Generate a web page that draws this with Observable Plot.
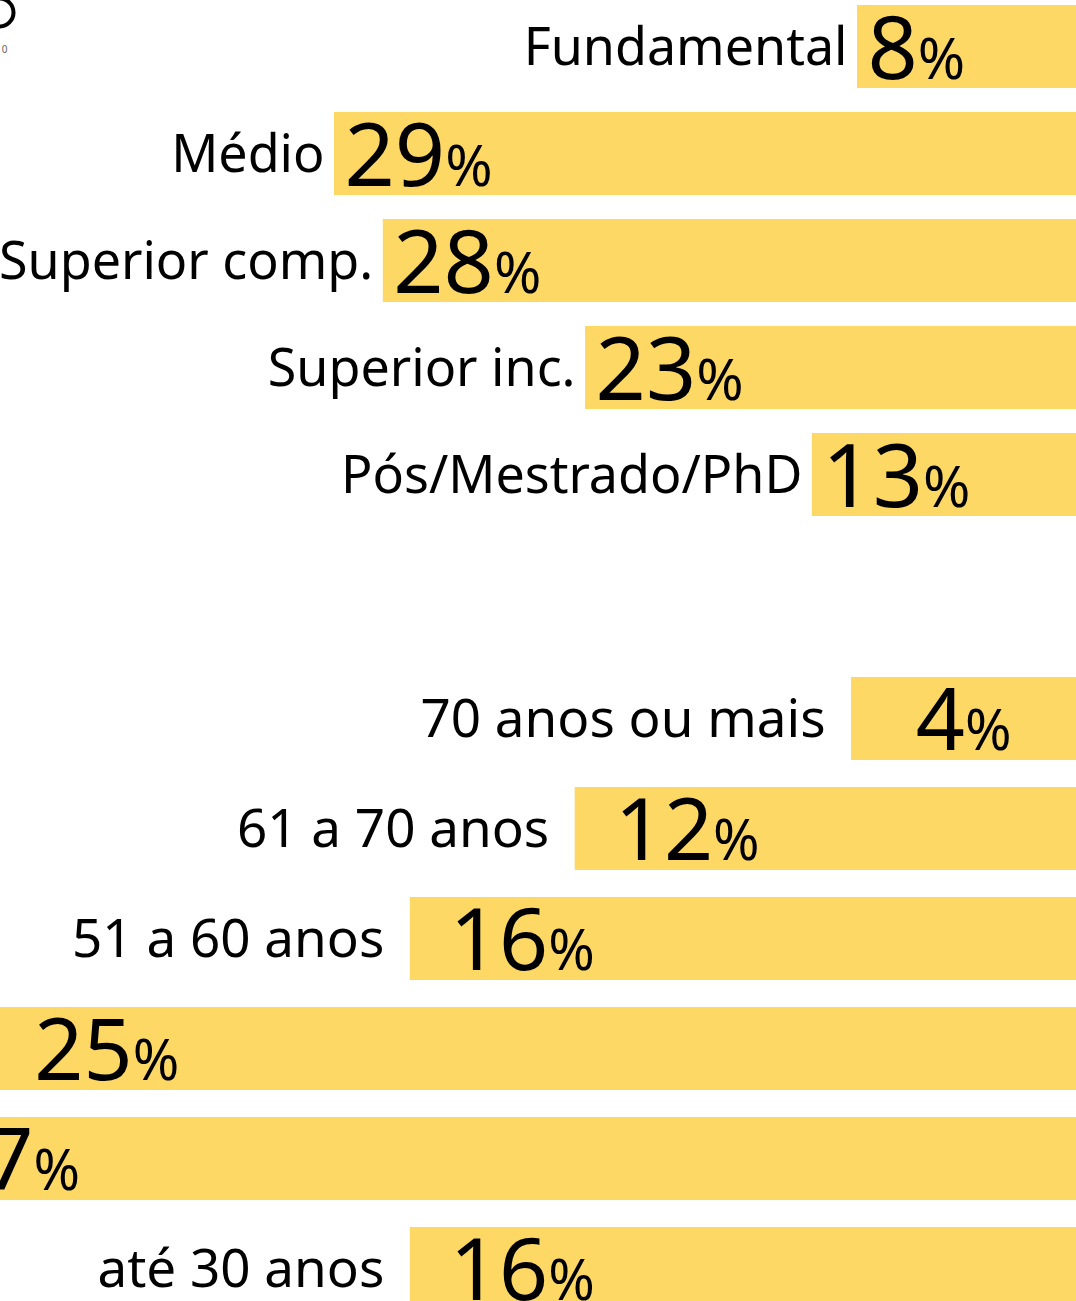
<!DOCTYPE html>
<html>
<head>
<meta charset="utf-8">
<script src="https://cdn.jsdelivr.net/npm/d3@7"></script>
<script src="https://cdn.jsdelivr.net/npm/@observablehq/plot@0.6"></script>
<style>
  body { margin: 0; background: #fff; }
  svg { display: block; overflow: hidden; }
</style>
</head>
<body>
<div id="chart"></div>
<script>
// ---- data ----
const eduCategories = ["Fundamental", "Médio", "Superior comp.", "Superior inc.", "Pós/Mestrado/PhD"];
const eduValues = [8, 29, 28, 23, 13];

const ageCategories = ["70 anos ou mais", "61 a 70 anos", "51 a 60 anos", "41 a 50 anos", "31 a 40 anos", "até 30 anos"];
const ageValues = [4, 12, 16, 25, 27, 16];

const barColor = "#fdd865";
const font = "'Noto Sans', sans-serif";

const edu = eduCategories.map((c, i) => ({category: c, value: eduValues[i]}));
const age = ageCategories.map((c, i) => ({category: c, value: ageValues[i]}));

// append a smaller "%" after each value label (value marks use a large font size)
function addPercent(svg, groupFontSize, size) {
  d3.select(svg).selectAll(`g[font-size="${groupFontSize}"] text`)
    .append("tspan").attr("font-size", size).text("%");
}

const eduPlot = Plot.plot({
  width: 1076,
  height: 560,
  margin: 0,
  style: {fontFamily: font, background: "white", overflow: "hidden"},
  x: {type: "pow", exponent: 2.7, domain: [0, 29], range: [873.7, 334], axis: null},
  y: {type: "band", domain: eduCategories, range: [4, 517], paddingInner: 0.228, paddingOuter: 0, axis: null},
  marks: [
    Plot.barX(edu, {x1: "value", x2: 0, y: "category", fill: barColor, insetRight: -260}),
    Plot.text(edu, {x: "value", y: "category", text: "category", textAnchor: "end", lineAnchor: "bottom",
      dx: -10, dy: 18, fontSize: 52, letterSpacing: "-3px", fill: "black"}),
    Plot.text(edu, {x: "value", y: "category", text: d => String(d.value), textAnchor: "start", lineAnchor: "bottom",
      dx: 10, dy: 32, fontSize: 88, fill: "black"}),
    Plot.dot([0], {frameAnchor: "top-left", dx: -1, dy: 12, r: 14, stroke: "black", strokeWidth: 4, fill: "none"}),
    Plot.text(["0"], {frameAnchor: "top-left", dx: 7, dy: 52, textAnchor: "end", lineAnchor: "bottom", fontSize: 10, fill: "#666"})
  ]
});
addPercent(eduPlot, 88, 57);

const agePlot = Plot.plot({
  width: 1076,
  height: 741,
  margin: 0,
  style: {fontFamily: font, background: "white", overflow: "hidden"},
  x: {type: "pow", exponent: 1.3, domain: [0, 27], range: [938.2, -105], axis: null},
  y: {type: "band", domain: ageCategories, range: [116, 750], paddingInner: 0.247, paddingOuter: 0, axis: null},
  marks: [
    Plot.barX(age, {x1: "value", x2: 0, y: "category", fill: barColor, insetRight: -200}),
    Plot.text(age, {x: "value", y: "category", text: "category", textAnchor: "end", lineAnchor: "bottom",
      dx: -26, dy: 18, fontSize: 53, fill: "black", style: {wordSpacing: "6px"}}),
    Plot.text(age, {x: "value", y: "category", text: d => String(d.value), textAnchor: "middle", lineAnchor: "bottom",
      dx: 112, dy: 31, fontSize: 86, fill: "black"})
  ]
});
addPercent(agePlot, 86, 56);

const root = document.getElementById("chart");
root.appendChild(eduPlot);
root.appendChild(agePlot);
</script>
</body>
</html>
